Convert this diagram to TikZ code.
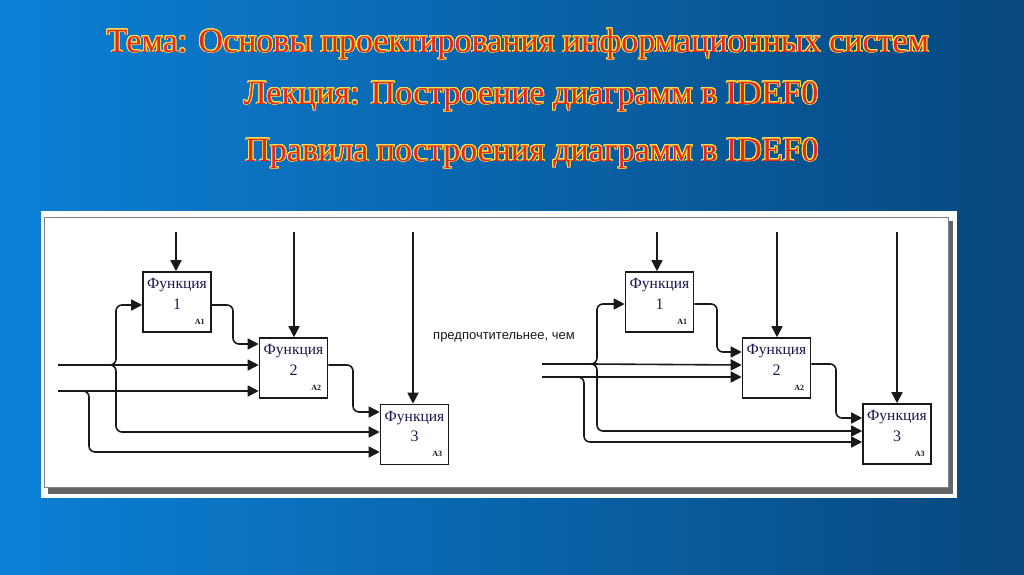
\documentclass[tikz,border=0pt]{standalone}
\usepackage{fontspec}
\setmainfont{Liberation Serif}
\newfontfamily\lsans{Liberation Sans}
\usepackage{contour}
\contourlength{0.9pt}
\contournumber{24}
\usetikzlibrary{arrows.meta}
\definecolor{bgL}{RGB}{12,128,214}
\definecolor{bgR}{RGB}{7,72,126}
\definecolor{ttlred}{RGB}{232,38,28}
\definecolor{ttlyel}{RGB}{240,226,80}
\definecolor{lnc}{RGB}{25,25,25}
\definecolor{boxtxt}{RGB}{25,25,80}
\definecolor{frm}{RGB}{130,130,130}
\definecolor{shd}{RGB}{100,100,100}
\tikzset{
  ttl/.style={anchor=base, text=ttlred, inner sep=0pt, font=\fontsize{34}{34}\selectfont},
  fbox/.style={draw=lnc, line width=1.6pt, fill=white, minimum width=68pt, minimum height=60pt, inner sep=0pt},
  ftxt/.style={text=boxtxt, inner sep=0pt, font=\fontsize{15.5}{15.5}\selectfont},
  fnum/.style={text=boxtxt, inner sep=0pt, font=\fontsize{16}{16}\selectfont},
  fid/.style={text=lnc, inner sep=0pt, font=\fontsize{8}{8}\selectfont\bfseries},
  arr/.style={draw=lnc, line width=1.6pt, rounded corners=6pt, -{Triangle[length=11pt,width=11pt]}},
  thk/.style={draw=lnc, line width=2.8pt},
}
\begin{document}
\begin{tikzpicture}[x=1pt,y=-1pt]
\useasboundingbox (0,0) rectangle (1024,574);
\shade[left color=bgL, right color=bgR] (0,0) rectangle (1024,574);
% titles
\node[ttl] (t1) at (518,52) {\contour{ttlyel}{Тема: Основы проектирования информационных систем}};
\node[ttl] (t2) at (531,104) {\contour{ttlyel}{Лекция: Построение диаграмм в IDEF0}};
\node[ttl] (t3) at (532,161) {\contour{ttlyel}{Правила построения диаграмм в IDEF0}};
% panel
\fill[white] (41,211) rectangle (957,498);
\fill[shd] (48,487) rectangle (953,494);
\fill[shd] (948,221) rectangle (953,494);
\draw[frm, line width=0.8pt] (44,217) rectangle (948,487);
% middle text
\node[anchor=west, inner sep=0pt, text=lnc, font=\lsans\fontsize{13}{13}\selectfont] (mid) at (433,337) {предпочтительнее, чем};

% ---------- left diagram
\node[fbox] (a1) at (177,302) {};
\node[fbox] (a2) at (293.5,368) {};
\node[fbox] (a3) at (414.5,434.5) {};
\foreach \b/\n in {a1/1,a2/2,a3/3}{
  \node[ftxt] (\b t) at ([yshift=-14pt]\b.north) {Функция};
  \node[fnum] (\b n) at ([yshift=-2pt]\b.center) {\n};
  \node[fid] (\b i) at ([xshift=-12pt,yshift=11pt]\b.south east) {A\n};
}
\coordinate (ac1) at (176,232);
\coordinate (ac2) at (294,232);
\coordinate (ac3) at (413,232);
\draw[arr] (ac1) -- (ac1 |- a1.north);
\draw[arr] (ac2) -- (ac2 |- a2.north);
\draw[arr] (ac3) -- (ac3 |- a3.north);
\coordinate (ai1) at (58,365);
\coordinate (aj1) at (110,365);
\coordinate (ai2) at (58,391);
\coordinate (aj2) at (86,391);
\draw[thk] (ai1) -- (aj1);
\draw[thk] (ai2) -- (aj2);
\draw[arr] (aj1) -- (116,365) -- (116,305) -- (a1.west |- 0,305);
\draw[arr] (aj1) -- (a2.west |- 0,365);
\draw[arr] (aj1) -- (116,365) -- (116,432) -- (a3.west |- 0,432);
\draw[arr] (aj2) -- (a2.west |- 0,391);
\draw[arr] (aj2) -- (89,391) -- (89,452) -- (a3.west |- 0,452);
\draw[arr] (a1.east |- 0,305) -- (233,305) -- (233,344) -- (a2.west |- 0,344);
\draw[arr] (a2.east |- 0,365) -- (353,365) -- (353,412) -- (a3.west |- 0,412);

% ---------- right diagram
\node[fbox] (b1) at (659.5,302) {};
\node[fbox] (b2) at (776.5,368) {};
\node[fbox] (b3) at (897,434) {};
\foreach \b/\n in {b1/1,b2/2,b3/3}{
  \node[ftxt] (\b t) at ([yshift=-14pt]\b.north) {Функция};
  \node[fnum] (\b n) at ([yshift=-2pt]\b.center) {\n};
  \node[fid] (\b i) at ([xshift=-12pt,yshift=11pt]\b.south east) {A\n};
}
\coordinate (bc1) at (657,232);
\coordinate (bc2) at (777,232);
\coordinate (bc3) at (897,232);
\draw[arr] (bc1) -- (bc1 |- b1.north);
\draw[arr] (bc2) -- (bc2 |- b2.north);
\draw[arr] (bc3) -- (bc3 |- b3.north);
\coordinate (bi1) at (542,364);
\coordinate (bj1) at (592,364);
\coordinate (bi2) at (542,377);
\coordinate (bj2) at (578,377);
\draw[thk] (bi1) -- (bj1);
\draw[thk, line width=2pt] (bi2) -- (bj2);
\draw[arr] (bj1) -- (597,364) -- (597,304) -- (b1.west |- 0,304);
\draw[arr] (bj1) -- (b2.west |- 0,365);
\draw[arr] (bj1) -- (597,364) -- (597,431) -- (b3.west |- 0,431);
\draw[arr] (bj2) -- (b2.west |- 0,377);
\draw[arr] (bj2) -- (584,377) -- (584,442) -- (b3.west |- 0,442);
\draw[arr] (b1.east |- 0,304) -- (717,304) -- (717,352) -- (b2.west |- 0,352);
\draw[arr] (b2.east |- 0,364) -- (836,364) -- (836,418) -- (b3.west |- 0,418);
\end{tikzpicture}
\end{document}
